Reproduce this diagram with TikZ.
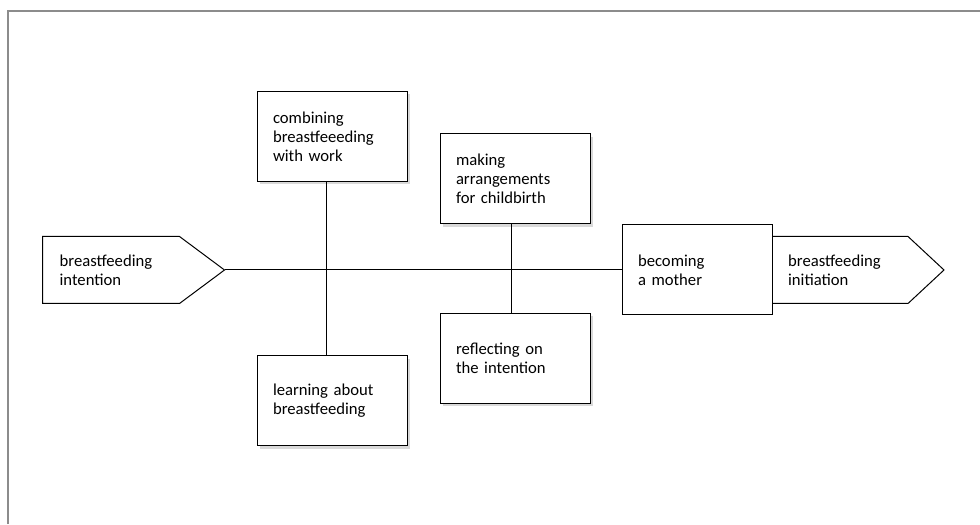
\documentclass[tikz,border=0pt]{standalone}
\usepackage{fontspec}
\setmainfont{Carlito}
\usetikzlibrary{calc,shadows}

\begin{document}
\begin{tikzpicture}[x=0.75pt,y=0.75pt,line width=0.75pt,
  every node/.style={font=\fontsize{12.5pt}{14.3pt}\selectfont},
  theme/.style={draw,fill=white,rectangle,minimum width=112.5pt,minimum height=67.5pt,
    text width=88.5pt,inner xsep=12pt,inner ysep=0pt,align=left},
  shadowed/.style={theme,drop shadow={shadow xshift=2.25pt,shadow yshift=-2.25pt,opacity=1,fill=black!15}},
  endbox/.style={rectangle,minimum width=101.25pt,minimum height=49.5pt,
    text width=77pt,inner xsep=12.5pt,inner ysep=0pt,align=left}]
\useasboundingbox (0,0) rectangle (980,524);
{
\draw[black!45,line width=1.5pt] (7.5,0) -- (7.5,513) -- (980,513);
%
\node[endbox] (intent) at (111,254) {breastfeeding\\intention};
\node[endbox] (init) at (839.5,254) {breastfeeding\\initiation};
\coordinate (intenttip) at ($(intent.east)+(45,0)$);
\coordinate (inittip) at ($(init.east)+(36,0)$);
\draw (intent.north west) -- (intent.north east) -- (intenttip) -- (intent.south east) -- (intent.south west) -- cycle;
\draw (init.north west) -- (init.north east) -- (inittip) -- (init.south east) -- (init.south west) -- cycle;
%
\node[theme] (mother) at (697,254) {becoming\\a mother};
\node[shadowed] (combine) at (332,387.5) {combining\\breastfeeeding\\with work};
\node[shadowed] (learn) at (332,123) {learning about\\breastfeeding};
\node[shadowed] (arrange) at (515,345) {making\\arrangements\\for childbirth};
\node[shadowed] (reflect) at (515,165.5) {reflecting on\\the intention};
%
\coordinate (j1) at (326,254);
\coordinate (j2) at (511,254);
\draw (intenttip) -- (mother.west);
\draw (combine.south -| j1) -- (learn.north -| j1);
\draw (arrange.south -| j2) -- (reflect.north -| j2);
}
\end{tikzpicture}
\end{document}
